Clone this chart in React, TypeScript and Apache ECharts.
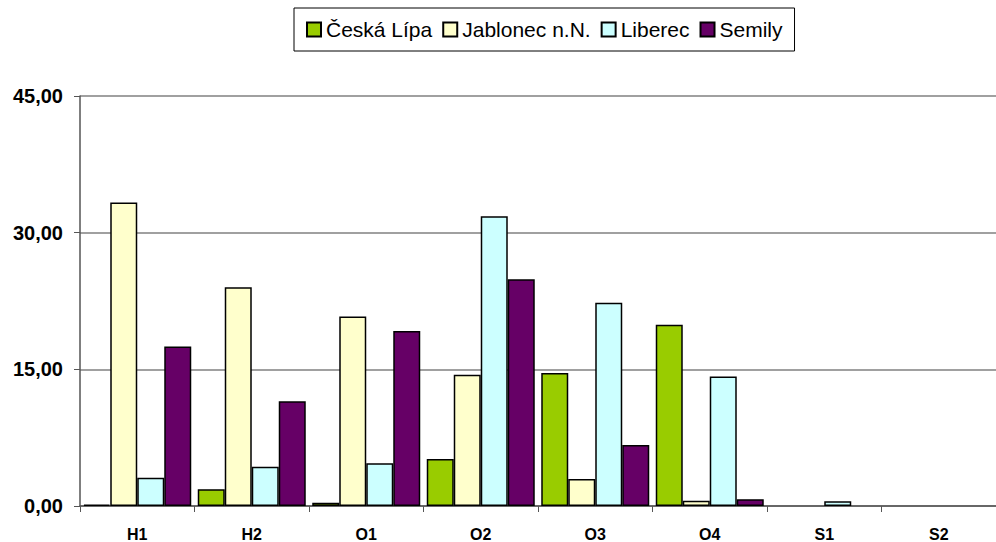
import React, { useEffect, useRef } from "react";
import * as echarts from "echarts";

const categories = ["H1", "H2", "O1", "O2", "O3", "O4", "S1", "S2"];
const seriesNames = ["Česká Lípa", "Jablonec n.N.", "Liberec", "Semily"];
const ceskaLipa = [0.15, 1.85, 0.35, 5.15, 14.6, 19.9, 0, 0];
const jablonec = [33.3, 24.0, 20.8, 14.4, 2.95, 0.57, 0, 0];
const liberec = [3.1, 4.3, 4.7, 31.8, 22.3, 14.2, 0.53, 0];
const semily = [17.5, 11.5, 19.2, 24.9, 6.7, 0.75, 0, 0];
const colors = ["#99CC00", "#FFFFCC", "#CCFFFF", "#660066"];
const yTicks = { min: 0, max: 45, interval: 15 };

const FONT = "Liberation Sans, Arial, sans-serif";

export default function App() {
  const ref = useRef<HTMLDivElement>(null);
  useEffect(() => {
    if (!ref.current) return;
    const chart = echarts.init(ref.current, undefined, { renderer: "svg" });
    const all = [ceskaLipa, jablonec, liberec, semily];
    chart.setOption({
      animation: false,
      backgroundColor: "#ffffff",
      legend: {
        left: 294,
        top: 8,
        padding: [11, 12],
        borderColor: "#000",
        borderWidth: 1,
        itemWidth: 14,
        itemHeight: 14,
        itemGap: 10,
        icon: "rect",
        data: seriesNames,
        textStyle: { fontFamily: FONT, fontSize: 21, color: "#000" },
      },
      grid: { left: 80, top: 96, width: 928, height: 410 },
      xAxis: {
        type: "category",
        data: categories,
        axisLine: { lineStyle: { color: "#555", width: 1.5 } },
        axisTick: { show: true, length: 6, lineStyle: { color: "#555" } },
        axisLabel: {
          fontFamily: FONT,
          fontSize: 16,
          fontWeight: "bold",
          color: "#000",
          margin: 20,
        },
      },
      yAxis: {
        type: "value",
        min: yTicks.min,
        max: yTicks.max,
        interval: yTicks.interval,
        axisLine: { show: true, lineStyle: { color: "#555", width: 1.5 } },
        axisTick: { show: true, length: 6, lineStyle: { color: "#555" } },
        splitLine: { lineStyle: { color: "#808080", width: 1.5 } },
        axisLabel: {
          fontFamily: FONT,
          fontSize: 20,
          fontWeight: "bold",
          color: "#000",
          margin: 17,
          formatter: (v: number) => v.toFixed(2).replace(".", ","),
        },
      },
      series: seriesNames.map((name, i) => ({
        name,
        type: "bar",
        barWidth: 27,
        barGap: "0%",
        data: all[i].map((v) => (v === 0 ? "-" : v)),
        itemStyle: { color: colors[i], borderColor: "#000", borderWidth: 1.5 },
      })),
    });
    return () => chart.dispose();
  }, []);
  return (
    <div
      ref={ref}
      style={{ position: "fixed", left: 0, top: 0, width: 996, height: 542 }}
    />
  );
}
